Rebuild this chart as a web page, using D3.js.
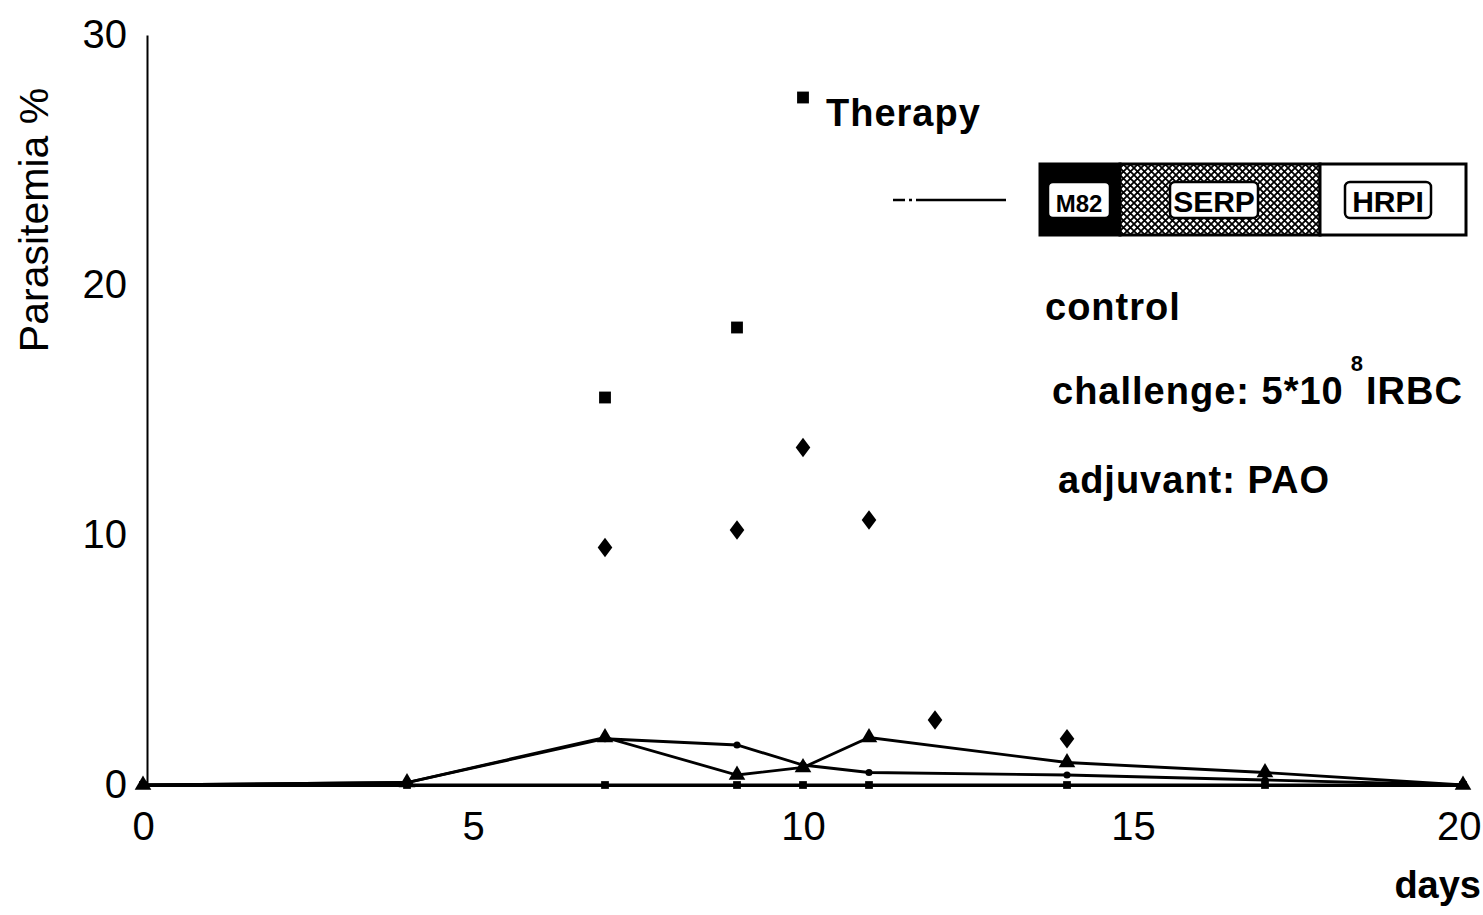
<!DOCTYPE html>
<html>
<head>
<meta charset="utf-8">
<script src="https://cdn.jsdelivr.net/npm/d3@7"></script>
<style>
  html, body { margin: 0; padding: 0; background: #fff; }
  svg { display: block; font-family: "Liberation Sans", Arial, Helvetica, sans-serif; }
</style>
</head>
<body>
<svg id="chart" width="1483" height="915"></svg>
<script>
// days on which the groups were sampled
const days = [0, 4, 7, 9, 10, 11, 14, 17, 20]

// therapy groups (parasitemia %)
const m82Values = [0, 0.1, 1.9, 0.4, 0.7, 1.9, 0.9, 0.5, 0]
const serpValues = [0, 0.1, 1.85, 1.6, 0.8, 0.5, 0.4, 0.2, 0]
const hrpiValues = [0, 0, 0, 0, 0, 0, 0, 0, 0]

// control animals, points only
const squareDays = [7, 9, 10]
const squareValues = [15.5, 18.3, 27.5]
const diamondDays = [7, 9, 10, 11, 12, 14]
const diamondValues = [9.5, 10.2, 13.5, 10.6, 2.6, 1.85]

const xTicks = [0, 5, 10, 15, 20]
const yTicks = [0, 10, 20, 30]
const legendLabels = ["M82", "SERP", "HRPI"]

const svg = d3.select("#chart")

const x = d3.scaleLinear().domain([0, 20]).range([143, 1463])
const y = d3.scaleLinear().domain([0, 30]).range([785, 35])

// pattern for the SERP block of the legend
const defs = svg.append("defs")
const hatch = defs.append("pattern")
  .attr("id", "hatch")
  .attr("width", 7)
  .attr("height", 7)
  .attr("patternUnits", "userSpaceOnUse")
hatch.append("rect").attr("width", 7).attr("height", 7).attr("fill", "#fff")
hatch.append("path")
  .attr("d", "M0,0L7,7M7,0L0,7")
  .attr("stroke", "#000")
  .attr("stroke-width", 1.8)

// axes
const yAxis = svg.append("g")
  .attr("transform", `translate(${x(0) + 4},0)`)
  .call(d3.axisLeft(y).tickValues(yTicks).tickSize(0).tickPadding(20))
yAxis.select(".domain").attr("stroke-width", 2)
yAxis.selectAll("text").attr("font-size", 40).attr("fill", "#000")

const xAxis = svg.append("g")
  .attr("transform", `translate(0,${y(0)})`)
  .call(d3.axisBottom(x).tickValues(xTicks).tickSize(0).tickPadding(27))
xAxis.select(".domain").attr("stroke-width", 3)
xAxis.selectAll("text").attr("font-size", 40).attr("fill", "#000")
// last label sits against the right edge, as in the figure
xAxis.selectAll("text")
  .filter((d) => d === 20)
  .attr("text-anchor", "end")
  .attr("x", 1481 - x(20))

svg.append("text")
  .attr("transform", "translate(48,220) rotate(-90)")
  .attr("text-anchor", "middle")
  .attr("font-size", 41)
  .text("Parasitemia %")

svg.append("text")
  .attr("x", 1481)
  .attr("y", 898)
  .attr("text-anchor", "end")
  .attr("font-size", 38)
  .attr("font-weight", "bold")
  .text("days")

// therapy lines
const series = [
  {values: m82Values, symbol: d3.symbolTriangle, size: 120},
  {values: serpValues, symbol: d3.symbolCircle, size: 40},
  {values: hrpiValues, symbol: d3.symbolSquare, size: 60}
]

const line = d3.line()
  .x((d) => x(d[0]))
  .y((d) => y(d[1]))

series.forEach((s) => {
  const pts = days.map((d, i) => [d, s.values[i]])
  svg.append("path")
    .datum(pts)
    .attr("fill", "none")
    .attr("stroke", "#000")
    .attr("stroke-width", 2.8)
    .attr("d", line)
  svg.append("g").selectAll("path")
    .data(pts)
    .join("path")
    .attr("transform", (d) => `translate(${x(d[0])},${y(d[1])})`)
    .attr("d", d3.symbol(s.symbol, s.size))
    .attr("fill", "#000")
})

// control points
svg.append("g").selectAll("path")
  .data(squareDays.map((d, i) => [d, squareValues[i]]))
  .join("path")
  .attr("transform", (d) => `translate(${x(d[0])},${y(d[1])})`)
  .attr("d", d3.symbol(d3.symbolSquare, 140))
  .attr("fill", "#000")

svg.append("g").selectAll("path")
  .data(diamondDays.map((d, i) => [d, diamondValues[i]]))
  .join("path")
  .attr("transform", (d) => `translate(${x(d[0])},${y(d[1])}) scale(1.3,1)`)
  .attr("d", d3.symbol(d3.symbolDiamond, 110))
  .attr("fill", "#000")

// annotations
svg.append("text")
  .attr("x", 826)
  .attr("y", 126)
  .attr("font-size", 38)
  .attr("font-weight", "bold")
  .attr("letter-spacing", 1)
  .text("Therapy")

svg.append("text")
  .attr("x", 1045)
  .attr("y", 320)
  .attr("font-size", 38)
  .attr("font-weight", "bold")
  .attr("letter-spacing", 1)
  .text("control")

const challenge = svg.append("text")
  .attr("x", 1052)
  .attr("y", 404)
  .attr("font-size", 38)
  .attr("font-weight", "bold")
  .attr("letter-spacing", 1)
challenge.append("tspan").text("challenge: 5*10")
challenge.append("tspan").attr("dx", 7).attr("dy", -33).attr("font-size", 22).text("8")
challenge.append("tspan").attr("dx", 2).attr("dy", 33).text("IRBC")

svg.append("text")
  .attr("x", 1058)
  .attr("y", 493)
  .attr("font-size", 38)
  .attr("font-weight", "bold")
  .attr("letter-spacing", 1)
  .text("adjuvant: PAO")

// legend
const legend = svg.append("g")
legend.append("line")
  .attr("x1", 893).attr("x2", 1006)
  .attr("y1", 200).attr("y2", 200)
  .attr("stroke", "#000")
  .attr("stroke-width", 2.5)
  .attr("stroke-dasharray", "12,4,3,4,200")

const boxes = [
  {x: 1040, w: 80, fill: "#000", label: {x: 1048, w: 62}},
  {x: 1120, w: 200, fill: "url(#hatch)", label: {x: 1170, w: 88}},
  {x: 1320, w: 146, fill: "#fff", label: {x: 1345, w: 86}}
]
legend.selectAll("rect.block")
  .data(boxes)
  .join("rect")
  .attr("class", "block")
  .attr("x", (d) => d.x)
  .attr("y", 164)
  .attr("width", (d) => d.w)
  .attr("height", 71)
  .attr("fill", (d) => d.fill)
  .attr("stroke", "#000")
  .attr("stroke-width", 3)

legend.selectAll("rect.tag")
  .data(boxes)
  .join("rect")
  .attr("class", "tag")
  .attr("x", (d) => d.label.x)
  .attr("y", 182)
  .attr("width", (d) => d.label.w)
  .attr("height", 36)
  .attr("rx", 5)
  .attr("fill", "#fff")
  .attr("stroke", "#000")
  .attr("stroke-width", 2.5)

legend.selectAll("text")
  .data(boxes)
  .join("text")
  .attr("x", (d) => d.label.x + d.label.w / 2)
  .attr("y", 212)
  .attr("text-anchor", "middle")
  .attr("font-size", (d, i) => i === 0 ? 24 : 30)
  .attr("font-weight", "bold")
  .text((d, i) => legendLabels[i])
</script>
</body>
</html>
